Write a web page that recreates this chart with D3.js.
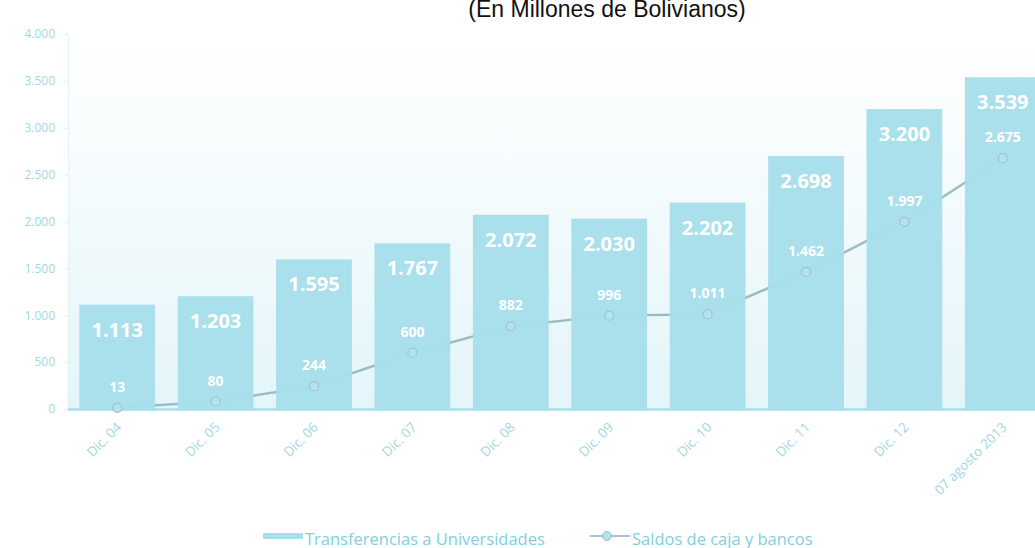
<!DOCTYPE html>
<html>
<head>
<meta charset="utf-8">
<script src="https://cdn.jsdelivr.net/npm/d3@7"></script>
<style>
  body { margin: 0; background: #fff; }
  #chart-area { width: 1035px; height: 548px; }
</style>
</head>
<body>
<div id="chart-area"></div>
<script>
// datos
const categorias = ['Dic. 04', 'Dic. 05', 'Dic. 06', 'Dic. 07', 'Dic. 08', 'Dic. 09', 'Dic. 10', 'Dic. 11', 'Dic. 12', '07 agosto 2013'];
const transferencias = [1113, 1203, 1595, 1767, 2072, 2030, 2202, 2698, 3200, 3539];
const saldos = [13, 80, 244, 600, 882, 996, 1011, 1462, 1997, 2675];
const ticksY = [0, 500, 1000, 1500, 2000, 2500, 3000, 3500, 4000];

const fmt = v => d3.format(',')(v).replace(/,/g, '.');

const width = 1035, height = 548;
const margin = { top: 34, right: -17, bottom: 139, left: 68 };
const innerWidth = width - margin.left - margin.right;
const innerHeight = height - margin.top - margin.bottom;

const svg = d3.select('#chart-area').append('svg')
    .attr('width', width)
    .attr('height', height);

// degradado del fondo
const defs = svg.append('defs');
const grad = defs.append('linearGradient').attr('id', 'fondo')
    .attr('x1', 0).attr('y1', 0).attr('x2', 0).attr('y2', 1);
grad.append('stop').attr('offset', '0%').attr('stop-color', '#ffffff');
grad.append('stop').attr('offset', '100%').attr('stop-color', '#e4f5f9');

// titulo
svg.append('text')
    .attr('x', 607)
    .attr('y', 17)
    .attr('text-anchor', 'middle')
    .attr('font-family', 'Liberation Sans, Arial, sans-serif')
    .attr('font-size', '23px')
    .attr('fill', '#111')
    .text('(En Millones de Bolivianos)');

const g = svg.append('g')
    .attr('transform', `translate(${margin.left}, ${margin.top})`);

const xScale = d3.scaleBand()
    .domain(categorias)
    .range([0, innerWidth])
    .paddingInner(0.23)
    .paddingOuter(0.115);

const yScale = d3.scaleLinear()
    .domain([0, 4000])
    .range([innerHeight, 0]);

g.append('rect')
    .attr('x', 0).attr('y', 0)
    .attr('width', innerWidth)
    .attr('height', innerHeight)
    .attr('fill', 'url(#fondo)');

// eje Y
const ejeY = g.append('g')
    .call(d3.axisLeft(yScale).tickValues(ticksY).tickFormat(fmt).tickSize(3).tickPadding(10))
    .attr('font-family', 'Open Sans, sans-serif')
    .attr('font-size', '12px')
    .attr('color', '#d6eef3');
ejeY.selectAll('text').attr('fill', '#a3d8e1');
ejeY.select('.domain').attr('stroke', '#e4f2f5');

// linea base
g.append('rect')
    .attr('x', 0).attr('y', innerHeight - 1)
    .attr('width', innerWidth).attr('height', 3)
    .attr('fill', '#b4e3ec');

// linea de saldos (debajo de las barras)
const cx = i => xScale(categorias[i]) + xScale.bandwidth() / 2;
const line = d3.line()
    .x((d, i) => cx(i))
    .y(d => yScale(d));

g.append('path')
    .datum(saldos)
    .attr('d', line)
    .attr('fill', 'none')
    .attr('stroke', '#9cbcc3')
    .attr('stroke-width', 2.5);

// barras
g.selectAll('.bar')
    .data(transferencias)
    .enter()
    .append('rect')
    .attr('class', 'bar')
    .attr('x', (d, i) => xScale(categorias[i]))
    .attr('y', d => yScale(d))
    .attr('width', xScale.bandwidth())
    .attr('height', d => innerHeight - yScale(d) + 1)
    .attr('fill', '#a7dfeb')
    .attr('fill-opacity', 0.96);

// marcadores
g.selectAll('.punto')
    .data(saldos)
    .enter()
    .append('circle')
    .attr('class', 'punto')
    .attr('cx', (d, i) => cx(i))
    .attr('cy', d => yScale(d))
    .attr('r', 4.5)
    .attr('fill', '#b3e3ec')
    .attr('stroke', '#a3c3ca')
    .attr('stroke-width', 1.2);

// etiquetas de barras
g.selectAll('.lblBar')
    .data(transferencias)
    .enter()
    .append('text')
    .attr('x', (d, i) => cx(i))
    .attr('y', d => yScale(d) + 32)
    .attr('text-anchor', 'middle')
    .attr('font-family', 'Open Sans, sans-serif')
    .attr('font-weight', 'bold')
    .attr('font-size', '20px')
    .attr('fill', '#ffffff')
    .text(fmt);

// etiquetas de la linea
g.selectAll('.lblLinea')
    .data(saldos)
    .enter()
    .append('text')
    .attr('x', (d, i) => cx(i))
    .attr('y', d => yScale(d) - 16)
    .attr('text-anchor', 'middle')
    .attr('font-family', 'Open Sans, sans-serif')
    .attr('font-weight', 'bold')
    .attr('font-size', '14px')
    .attr('fill', '#ffffff')
    .text(fmt);

// etiquetas del eje X rotadas
g.selectAll('.lblX')
    .data(categorias)
    .enter()
    .append('text')
    .attr('transform', (d, i) => `translate(${cx(i) + 5}, ${innerHeight + 19}) rotate(-45)`)
    .attr('text-anchor', 'end')
    .attr('font-family', 'Open Sans, sans-serif')
    .attr('font-size', '13.5px')
    .attr('fill', '#a3d8e1')
    .text(d => d);

// leyenda
const ley = svg.append('g').attr('font-family', 'Open Sans, sans-serif').attr('font-size', '16.5px');
ley.append('rect').attr('x', 263).attr('y', 533).attr('width', 40).attr('height', 6).attr('fill', '#a7dfeb');
ley.append('text').attr('x', 305).attr('y', 545).attr('fill', '#7fcfe0').text('Transferencias a Universidades');
ley.append('line').attr('x1', 590).attr('x2', 630).attr('y1', 536).attr('y2', 536)
    .attr('stroke', '#a9c6cc').attr('stroke-width', 2);
ley.append('circle').attr('cx', 607).attr('cy', 536).attr('r', 4.5)
    .attr('fill', '#b3e3ec').attr('stroke', '#9cbcc3');
ley.append('text').attr('x', 632).attr('y', 545).attr('fill', '#7fcfe0').text('Saldos de caja y bancos');
</script>
</body>
</html>
